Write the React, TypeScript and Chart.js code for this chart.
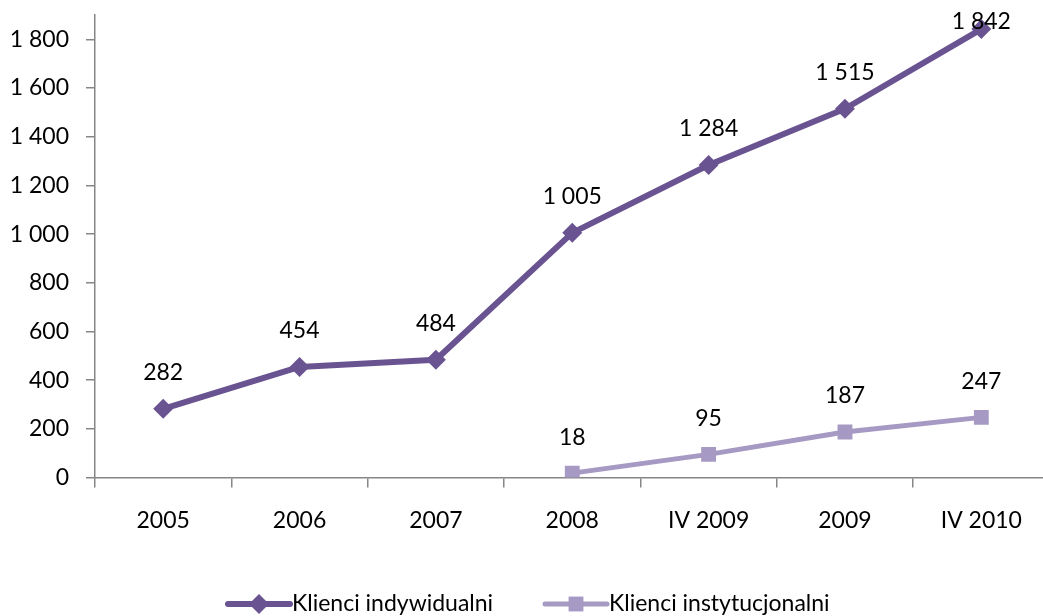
import { useEffect, useRef } from "react";
import { Chart, registerables } from "chart.js";

Chart.register(...registerables);

const categories = ["2005", "2006", "2007", "2008", "IV 2009", "2009", "IV 2010"];
const individualClients = [282, 454, 484, 1005, 1284, 1515, 1842];
const institutionalClients = [null, null, null, 18, 95, 187, 247];
const seriesNames = ["Klienci indywidualni", "Klienci instytucjonalni"];
const yTickValues = [0, 200, 400, 600, 800, 1000, 1200, 1400, 1600, 1800];
const yMax = 1900;

const DARK = "#6A5391";
const LIGHT = "#A699C3";
const AXIS = "#868686";
const FONT = "Lato, 'Open Sans', sans-serif";
const FONT_SIZE = 23;

const fmt = (v: number) => String(v).replace(/\B(?=(\d{3})+(?!\d))/g, " ");

const labelPlugin = {
  id: "valueLabels",
  afterDatasetsDraw(chart: any) {
    const ctx = chart.ctx;
    ctx.save();
    ctx.font = `${FONT_SIZE}px ${FONT}`;
    ctx.fillStyle = "#000";
    ctx.textAlign = "center";
    ctx.textBaseline = "middle";
    chart.data.datasets.forEach((ds: any, i: number) => {
      const meta = chart.getDatasetMeta(i);
      meta.data.forEach((el: any, j: number) => {
        const v = ds.data[j];
        if (v === null || v === undefined) return;
        const y = Math.max(el.y - 36, 22);
        ctx.fillText(fmt(v), el.x, y);
      });
    });
    ctx.restore();
  },
};

function drawMarker(ctx: CanvasRenderingContext2D, style: string, x: number, y: number, r: number, color: string) {
  ctx.fillStyle = color;
  ctx.beginPath();
  if (style === "rectRot") {
    ctx.moveTo(x - r, y);
    ctx.lineTo(x, y - r);
    ctx.lineTo(x + r, y);
    ctx.lineTo(x, y + r);
    ctx.closePath();
  } else {
    const s = r * Math.SQRT1_2;
    ctx.rect(x - s, y - s, 2 * s, 2 * s);
  }
  ctx.fill();
}

const legendPlugin = {
  id: "lineLegend",
  afterDraw(chart: any) {
    const ctx = chart.ctx;
    const y = 604;
    const items = [
      { x: 228, name: seriesNames[0], color: DARK, style: "rectRot", r: 10, lw: 6 },
      { x: 545, name: seriesNames[1], color: LIGHT, style: "rect", r: 10.5, lw: 5 },
    ];
    ctx.save();
    ctx.font = `${FONT_SIZE}px ${FONT}`;
    ctx.textBaseline = "middle";
    ctx.textAlign = "left";
    items.forEach((it) => {
      ctx.strokeStyle = it.color;
      ctx.lineWidth = it.lw;
      ctx.lineCap = "round";
      ctx.beginPath();
      ctx.moveTo(it.x, y);
      ctx.lineTo(it.x + 62, y);
      ctx.stroke();
      drawMarker(ctx, it.style, it.x + 31, y, it.r, it.color);
      ctx.fillStyle = "#000";
      ctx.fillText(it.name, it.x + 64, y);
    });
    ctx.restore();
  },
};

export default function App() {
  const ref = useRef<HTMLCanvasElement | null>(null);
  useEffect(() => {
    if (!ref.current) return;
    const chart = new Chart(ref.current, {
      type: "line",
      data: {
        labels: categories,
        datasets: [
          {
            label: seriesNames[0],
            data: individualClients,
            borderColor: DARK,
            backgroundColor: DARK,
            borderWidth: 6,
            pointStyle: "rectRot",
            pointRadius: 10,
            pointHoverRadius: 10,
            pointBorderWidth: 0,
            borderJoinStyle: "round",
            borderCapStyle: "round",
            tension: 0,
          },
          {
            label: seriesNames[1],
            data: institutionalClients,
            borderColor: LIGHT,
            backgroundColor: LIGHT,
            borderWidth: 5,
            pointStyle: "rect",
            pointRadius: 10.5,
            pointHoverRadius: 10.5,
            pointBorderWidth: 0,
            borderJoinStyle: "round",
            borderCapStyle: "round",
            tension: 0,
            spanGaps: false,
          },
        ],
      },
      options: {
        animation: false,
        responsive: false,
        maintainAspectRatio: false,
        devicePixelRatio: 1,
        layout: { padding: { top: 15, right: 6, bottom: 0, left: 0 } },
        plugins: {
          legend: { display: false },
          tooltip: { enabled: false },
        },
        scales: {
          x: {
            type: "category",
            offset: true,
            grid: {
              offset: true,
              drawOnChartArea: false,
              drawTicks: true,
              tickLength: 10,
              color: AXIS,
              lineWidth: 1.5,
            },
            border: { color: AXIS, width: 1.5 },
            ticks: {
              color: "#000",
              font: { family: FONT, size: FONT_SIZE },
              padding: 19,
              maxRotation: 0,
              autoSkip: false,
            },
            afterFit: (scale: any) => {
              scale.height = 138.5;
              scale.paddingLeft = 0;
              scale.paddingRight = 0;
            },
          },
          y: {
            min: 0,
            max: yMax,
            grid: {
              drawOnChartArea: false,
              drawTicks: true,
              tickLength: 9,
              color: AXIS,
              lineWidth: 1.5,
            },
            border: { color: AXIS, width: 1.5 },
            ticks: {
              color: "#000",
              font: { family: FONT, size: FONT_SIZE },
              padding: 17,
              callback: (v: any) => fmt(Number(v)),
            },
            afterBuildTicks: (scale: any) => {
              scale.ticks = yTickValues.map((v) => ({ value: v }));
            },
            afterFit: (scale: any) => {
              scale.width = 95;
              scale.paddingTop = 0;
              scale.paddingBottom = 0;
            },
          },
        },
      },
      plugins: [labelPlugin, legendPlugin],
    });
    return () => chart.destroy();
  }, []);

  return (
    <div style={{ position: "fixed", left: 0, top: 0, width: 1043, height: 616, overflow: "hidden", background: "#fff" }}>
      <canvas ref={ref} width={1060} height={616} style={{ display: "block", width: 1060, height: 616 }} />
    </div>
  );
}
